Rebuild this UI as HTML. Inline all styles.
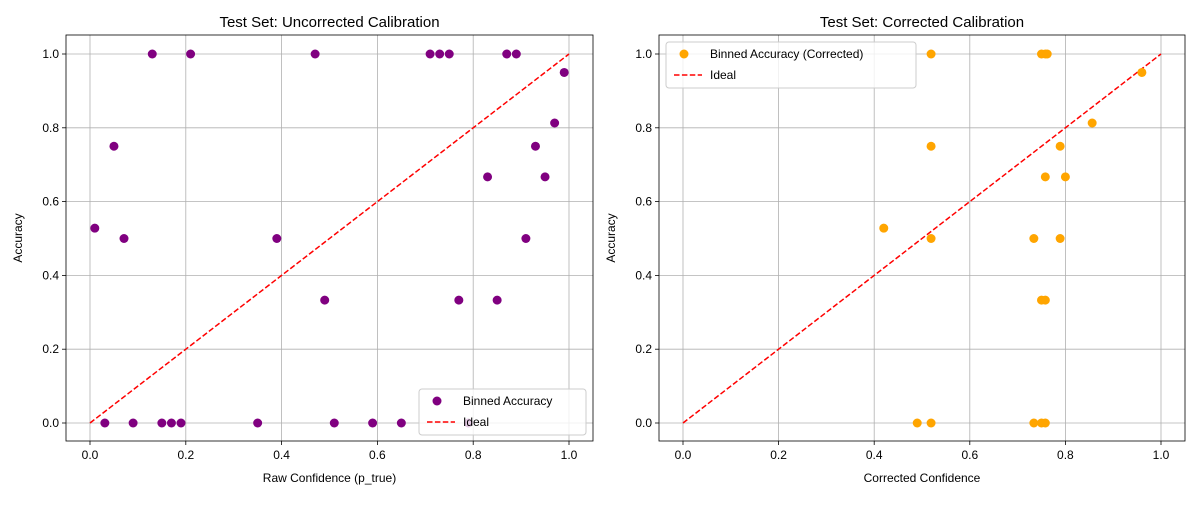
<!DOCTYPE html>
<html><head><meta charset="utf-8">
<style>
body{margin:0;background:#fff;width:1200px;height:500px;overflow:hidden}
svg{font-family:"Liberation Sans","DejaVu Sans",sans-serif}
</style></head>
<body>
<svg id="chart" width="1200" height="500" xmlns="http://www.w3.org/2000/svg"></svg>
<script>
const leftX=[0.010,0.031,0.05,0.071,0.09,0.13,0.15,0.17,0.19,0.21,0.35,0.39,0.47,0.49,0.51,0.59,0.65,0.71,0.73,0.75,0.77,0.79,0.83,0.85,0.87,0.89,0.91,0.93,0.95,0.97,0.99];
const leftY=[0.528,0,0.75,0.5,0,1,0,0,0,1,0,0.5,1,0.333,0,0,0,1,1,1,0.333,0,0.667,0.333,1,1,0.5,0.75,0.667,0.813,0.95];
const rightX=[0.42,0.519,0.519,0.519,0.49,0.519,0.734,0.734,0.75,0.758,0.762,0.758,0.75,0.758,0.75,0.758,0.789,0.789,0.80,0.856,0.96];
const rightY=[0.528,1,0.75,0.5,0,0,0.5,0,1,1,1,0.667,0.333,0.333,0,0,0.5,0.75,0.667,0.813,0.95];
const tickVals=[0,0.2,0.4,0.6,0.8,1.0];
const tickLabels=["0.0","0.2","0.4","0.6","0.8","1.0"];
const NS="http://www.w3.org/2000/svg";
const svg=document.getElementById('chart');
function mk(tag,attrs,parent){const e=document.createElementNS(NS,tag);for(const k in attrs)e.setAttribute(k,attrs[k]);(parent||svg).appendChild(e);return e;}
function panel(p){
  const g=mk('g',{});
  
  
  const sx=v=>p.x0+v*(p.x1-p.x0), sy=v=>423+v*(54-423);
  tickVals.forEach((v,i)=>{
    mk('line',{x1:sx(v),x2:sx(v),y1:p.L,y2:441,stroke:'#b0b0b0','stroke-width':0.8},g);
    mk('line',{x1:p.bx0,x2:p.bx1,y1:sy(v),y2:sy(v),stroke:'#b0b0b0','stroke-width':0.8},g);
    mk('line',{x1:sx(v),x2:sx(v),y1:441,y2:445,stroke:'#000','stroke-width':0.8},g);
    mk('line',{x1:p.bx0-4,x2:p.bx0,y1:sy(v),y2:sy(v),stroke:'#000','stroke-width':0.8},g);
    const t=mk('text',{x:sx(v),y:459,'font-size':12,'text-anchor':'middle'},g);t.textContent=tickLabels[i];
    
    
    const t2=mk('text',{x:p.bx0-7,y:sy(v)+4,'font-size':12,'text-anchor':'end'},g);t2.textContent=tickLabels[i];
    
    
  });
  const ideal=mk('line',{x1:sx(0),y1:sy(0),x2:sx(1),y2:sy(1),stroke:'#ff0000','stroke-width':1.5,'stroke-dasharray':'5.5,2.4'},g);
  
  
  p.xs.forEach((x,i)=>{
    const c=mk('circle',{cx:sx(x),cy:sy(p.ys[i]),r:4.5,fill:p.color},g);
    
    
  });
  mk('rect',{x:p.bx0,y:35,width:p.bx1-p.bx0,height:406,fill:'none',stroke:'#000','stroke-width':0.8},g);
  const title=mk('text',{x:(p.bx0+p.bx1)/2,y:27,'font-size':15,'text-anchor':'middle'},g);title.textContent=p.title;
  
  
  const xl=mk('text',{x:(p.bx0+p.bx1)/2,y:482,'font-size':12,'text-anchor':'middle'},g);xl.textContent=p.xlabel;
  
  
  const yl=mk('text',{x:0,y:0,'font-size':12,'text-anchor':'middle',transform:`translate(${p.bx0-44},238) rotate(-90)`},g);yl.textContent='Accuracy';
  
  
  const lg=mk('g',{},g);
  
  
  mk('rect',{x:p.lx,y:p.ly,width:p.lw,height:46,rx:3,fill:'#fff','fill-opacity':0.8,stroke:'#ccc'},lg);
  mk('circle',{cx:p.lx+18,cy:p.ly+12,r:4.5,fill:p.color},lg);
  const lt=mk('text',{x:p.lx+44,y:p.ly+16,'font-size':12},lg);lt.textContent=p.label;
  mk('line',{x1:p.lx+8,x2:p.lx+36,y1:p.ly+33,y2:p.ly+33,stroke:'#ff0000','stroke-width':1.5,'stroke-dasharray':'5.5,2.4'},lg);
  const lt2=mk('text',{x:p.lx+44,y:p.ly+37,'font-size':12},lg);lt2.textContent='Ideal';
}
panel({name:'uncorrected-panel',x0:90,x1:569,bx0:66,bx1:593,L:35,xs:leftX,ys:leftY,color:'#800080',title:'Test Set: Uncorrected Calibration',xlabel:'Raw Confidence (p_true)',lx:419,ly:389,lw:167,label:'Binned Accuracy'});
panel({name:'corrected-panel',x0:683,x1:1161,bx0:659,bx1:1185,L:35,xs:rightX,ys:rightY,color:'#ffa500',title:'Test Set: Corrected Calibration',xlabel:'Corrected Confidence',lx:666,ly:42,lw:250,label:'Binned Accuracy (Corrected)'});
</script>
</body></html>
